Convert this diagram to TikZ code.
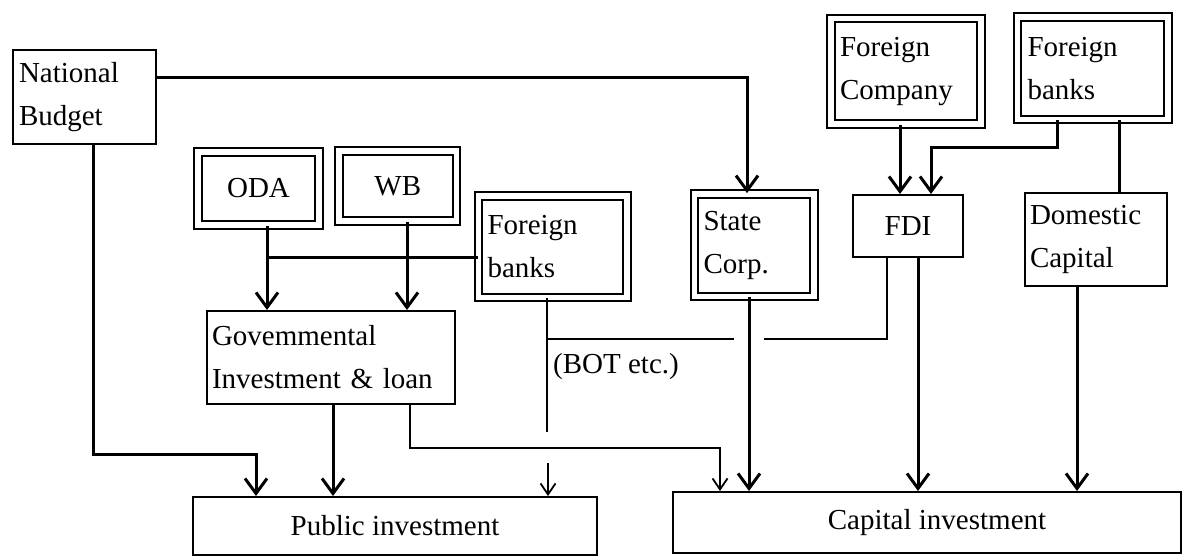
\documentclass[tikz,border=0pt]{standalone}
\usepackage{fontspec}
\setmainfont{Liberation Serif}
\usetikzlibrary{arrows.meta}
\begin{document}
\begin{tikzpicture}[x=1pt,y=-1pt,
  box/.style={draw, line width=2pt, inner ysep=0pt, font=\fontsize{29}{43}\selectfont},
  dbox/.style={box, line width=1.8pt, double, double distance=5.5pt},
  lbox/.style={align=left},
  thk/.style={line width=3pt},
  thn/.style={line width=1.8pt},
  arr/.style={thk, -{Straight Barb[length=15pt,width=22pt]}},
  tarr/.style={thn, -{Straight Barb[length=11pt,width=15pt]}},
]
\fill[white] (0,0) rectangle (1182,558);
\useasboundingbox (0,0) rectangle (1182,558);

% boxes
\node[box, lbox, minimum width=143pt, minimum height=94pt, text width=131pt, inner xsep=6pt] (NB) at (84.5,97) {National\\Budget};
\node[dbox, minimum width=121pt, minimum height=73pt] (ODA) at (258.5,188.5) {ODA};
\node[dbox, minimum width=117.5pt, minimum height=70pt] (WB) at (397.75,186) {WB};
\node[dbox, lbox, minimum width=148.5pt, minimum height=101.5pt, text width=130.5pt, inner xsep=9pt] (FBL) at (552.75,246.75) {Foreign\\banks};
\node[dbox, lbox, minimum width=119.5pt, minimum height=102.5pt, text width=101.5pt, inner xsep=9pt] (SC) at (754.25,245.25) {State\\Corp.};
\node[dbox, lbox, minimum width=150pt, minimum height=105.5pt, text width=132pt, inner xsep=9pt] (FC) at (906,71.25) {Foreign\\Company};
\node[dbox, lbox, minimum width=150.5pt, minimum height=102.5pt, text width=130.5pt, inner xsep=10pt] (FBR) at (1092.75,68.25) {Foreign\\banks};
\node[box, minimum width=110pt, minimum height=62pt] (FDI) at (908,226) {FDI};
\node[box, lbox, minimum width=142pt, minimum height=93pt, text width=132pt, inner xsep=5pt] (DC) at (1096,239.5) {Domestic\\Capital};
\node[box, lbox, minimum width=248pt, minimum height=93pt, text width=238pt, inner xsep=5pt] (GOV) at (331,357.5) {Govemmental\\Investment \& loan};
\node[box, minimum width=404pt, minimum height=58pt] (PUB) at (395,526) {Public investment};
\node[box, minimum width=508pt, minimum height=61pt] (CAP) at (927,522.5) {\hspace*{20pt}Capital investment};
\node[font=\fontsize{29}{43}\selectfont, anchor=west, inner sep=0pt] (BOT) at (553,367) {(BOT etc.)};

% connectors
\draw[arr] (NB.east |- 0,77) -| (SC.north -| 747,0);
\draw[arr] (NB.south -| 93,0) -- (93,454) -| (PUB.north -| 256,0);
\draw[arr] (ODA.south -| 267,0) -- (GOV.north -| 267,0);
\draw[arr] (WB.south -| 407,0) -- (GOV.north -| 407,0);
\draw[thk] (FBL.west |- 0,257) -- (267,257);
\draw[arr] (GOV.south -| 333,0) -- (PUB.north -| 333,0);
\draw[tarr] (GOV.south -| 410,0) |- (720,448) -- (CAP.north -| 720,0);
\draw[thn] (FBL.south -| 547,0) -- (547,432);
\coordinate (botlow) at (548,463);
\draw[tarr] (botlow) -- (PUB.north -| 548,0);
\draw[thn] (FDI.south -| 887,0) |- (764,339);
\draw[thn] (734,339) -- (547,339);
\draw[arr] (SC.south -| 749,0) -- (CAP.north -| 749,0);
\draw[arr] (FC.south -| 900,0) -- (FDI.north -| 900,0);
\draw[arr] (FBR.south -| 1057,0) |- (931,147) -- (FDI.north -| 931,0);
\draw[thk] (FBR.south -| 1119,0) -- (DC.north -| 1119,0);
\draw[arr] (FDI.south -| 918,0) -- (CAP.north -| 918,0);
\draw[arr] (DC.south -| 1077,0) -- (CAP.north -| 1077,0);
\end{tikzpicture}
\end{document}
